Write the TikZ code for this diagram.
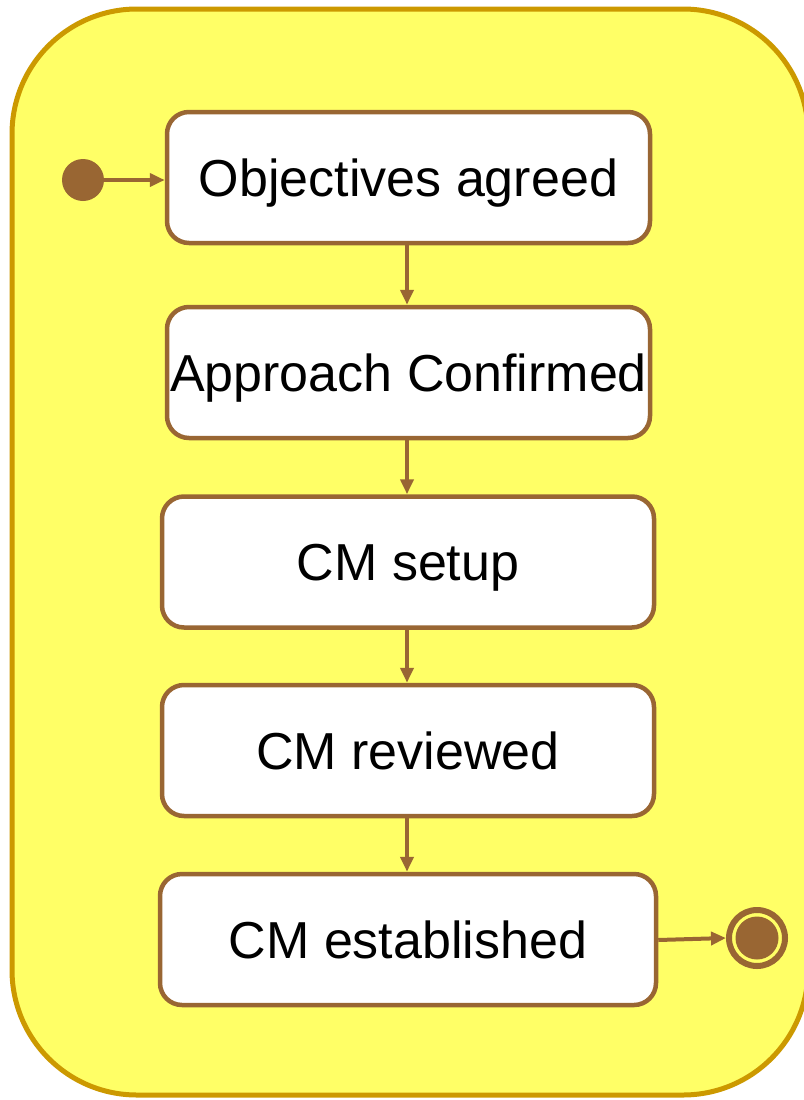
\documentclass[tikz,border=0pt]{standalone}
\usepackage{fontspec}
\setmainfont{Liberation Sans}
\usetikzlibrary{arrows.meta}
\definecolor{panelfill}{HTML}{FFFF66}
\definecolor{panelline}{HTML}{CC9900}
\definecolor{brownline}{HTML}{996633}
\tikzset{
  statebox/.style={draw=brownline, line width=4.5pt, fill=white, rounded corners=22pt,
    minimum height=131pt, inner sep=0pt, text height=37.2pt, text depth=0pt,
    font=\fontsize{52}{60}\selectfont},
  flow/.style={draw=brownline, line width=4pt, -{Triangle[length=15pt,width=13pt]}},
  startdot/.style={circle, fill=brownline, minimum size=42pt, inner sep=0pt},
  enddot/.style={circle, draw=brownline, line width=6pt, fill=panelfill, minimum size=56pt, inner sep=0pt},
  endcore/.style={circle, fill=brownline, minimum size=43pt, inner sep=0pt}
}
\begin{document}
\begin{tikzpicture}[x=1pt,y=-1pt]
  \useasboundingbox (0,0) rectangle (803,1100);
  % enclosing composite state
  \draw[panelline, fill=panelfill, line width=5pt, rounded corners=125pt]
    (12,9) rectangle (808,1095);
  % states
  \node[statebox, minimum width=483pt] (s1) at (408.5,177.5) {Objectives agreed};
  \node[statebox, minimum width=483pt] (s2) at (408.5,372.5) {Approach Confirmed};
  \node[statebox, minimum width=492pt] (s3) at (408,562) {CM setup};
  \node[statebox, minimum width=492pt] (s4) at (408,750.5) {CM reviewed};
  \node[statebox, minimum width=496pt] (s5) at (408,939.5) {CM established};
  % initial and final pseudostates
  \node[startdot] (init) at (83,180) {};
  \node[enddot] (fin) at (757,938) {};
  \node[endcore] (fincore) at (757,938) {};
  % transitions
  \draw[flow] (init.east) -- (s1.west |- init.east);
  \draw[flow] (s1.south -| 407,0) -- (s2.north -| 407,0);
  \draw[flow] (s2.south -| 407,0) -- (s3.north -| 407,0);
  \draw[flow] (s3.south -| 407,0) -- (s4.north -| 407,0);
  \draw[flow] (s4.south -| 407,0) -- (s5.north -| 407,0);
  \draw[flow] (s5.east |- 0,940) -- (fin.west);
\end{tikzpicture}
\end{document}
